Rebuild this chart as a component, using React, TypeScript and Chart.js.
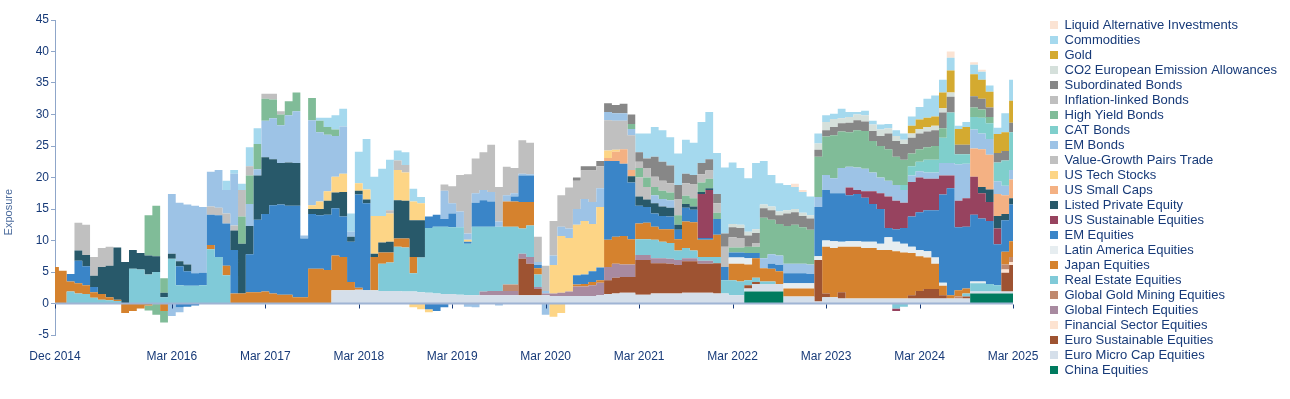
import React, { useEffect, useRef } from 'react';
import { Chart, registerables } from 'chart.js';

Chart.register(...registerables);

// zero runs (values read as 0 on the picture)
const z = (n: number): number[] => Array(n).fill(0);

// ---------- categories (monthly, Dec 2014 .. Mar 2025) ----------
const MONTH_NAMES = ['Jan', 'Feb', 'Mar', 'Apr', 'May', 'Jun', 'Jul', 'Aug', 'Sep', 'Oct', 'Nov', 'Dec'];
const categories: string[] = [];
for (let i = 0; i < 124; i++) {
  const k = 11 + i;
  categories.push(`${MONTH_NAMES[k % 12]} ${2014 + Math.floor(k / 12)}`);
}
const tickLabels = ['Dec 2014', 'Mar 2016', 'Mar 2017', 'Mar 2018', 'Mar 2019', 'Mar 2020', 'Mar 2021', 'Mar 2022', 'Mar 2023', 'Mar 2024', 'Mar 2025'];
const yTicks = { min: -5, max: 45, step: 5 };

// ---------- series (bottom of stack first) ----------
const chinaEquities = [...z(89), 1.9, 1.9, 1.9, 1.9, 1.9, ...z(24), 1.6, 1.6, 1.6, 1.6, 1.6, 1.6];
const euroMicroCap = [...z(36),
  2.1, 2.1, 2.1, 2.2, 2.1, 2.1, 2.0, 2.0, 2.0, 1.9, 1.9, 1.8,
  1.7, 1.6, 1.5, 1.5, 1.4, 1.3, 1.3, 1.3, 1.3, 1.3, 1.3, 1.3,
  1.3, 1.3, 1.3, 1.3, 1.2, 1.2, 1.2, 1.2, 1.2, 1.2, 1.3, 1.5,
  1.6, 1.7, 1.7, 1.4, 1.4, 1.6, 1.6, 1.6, 1.6, 1.7, 1.7, 1.7,
  1.7, 1.6, 1.6, 1.3, 1.3, 0.5, 1.2, 1.2, 1.2, 1.2, 1.1, 1.1,
  1.1, 1.1, 0.3, 1.0, 1.0, 0.8, 0.8, 0.8, 0.8, 0.8, 0.8, 0.8,
  0.8, 0.8, 0.8, 0.8, 0.8, 0.8, 0.8, 0.8, 0.8, 0.8, 0.3, 0.3,
  0.3, 0.3, 0.3, 0.3];
const euroSustainable = [...z(60),
  5.8, 5.0, 1.0, 0, 0, 0, 0, 0, 0, 0, 0, 2.2,
  2.5, 2.5, 2.5, 5.5, 5.5, 4.8, 4.8, 4.7, 4.5, 5.0, 5.0, 4.6,
  4.6, 4.8, 0, 0, 0, 0.5, 0.3, 0, 0, 0, 0, 0,
  0, 0, 6.6, 0.6, 0, 1.0, 0, 0, 0, 0, 0, 0,
  0, 0, 0.5, 1.2, 1.5, 1.5, 0.5, 0, 0, 0.3, 0, 0,
  0, 0, 3.0, 4.2];
const financialSector = [...z(122), 0.5, 0.5];
const globalFintech = [...z(55), 0.6, 0.7, 0.7, 0.7, 0.7,
  0.8, 1.1, 0.3, 0.3, 0.4, 0.5, 0.7, 1.5, 1.5, 1.7, 2.0, 2.1,
  2.2, 2.0, 2.0, 0.8, 0.8, 0.8, 0.8, 0.8, 0.8, 0.5, 0.5, 0.5,
  0.5, ...z(39)];
const globalGoldMining = [...z(58), 1.0, 1.0, ...z(56), 0.3, ...z(5), 0.8, 0.8];
const realEstate = [
  0, 0, 1.9, 1.6, 1.5, 0.9, 0.6, 0.5, 0.4, 0, 5.5, 5.4,
  4.6, 5.0, 1.0, 7.1, 2.9, 2.8, 2.8, 2.9, 8.6, 7.4, 4.5, 0,
  ...z(18), 4.3, 4.5, 7.0, 7.0, 2.9, 5.5,
  10.3, 10.6, 10.7, 10.6, 10.7, 8.2, 10.9, 10.3, 10.2, 10.2, 9.2, 9.2,
  4.0, 5.0, 2.0, ...z(12),
  2.5, 2.5, 2.9, 2.6, 2.5, 1.5, 1.6, 1.2, 0.6,
  0.6, 1.0, 2.1, 2.4, 2.2, 0.8, 0.7, 0.4, 0.4,
  ...z(24), 0.5, 1.3, 1.3, 1.2, 1.0, 0, 0];
const japan = [
  5.8, 5.2, 1.6, 1.6, 1.4, 0.9, 0.9, 0.5, 0.2, 0, 0, 0,
  0, 0, 0, 0, 0, 0, 0, 0, 0.7, 0, 1.5, 1.6,
  1.6, 1.8, 1.8, 1.9, 1.6, 1.4, 1.4, 1.0, 1.0, 5.5, 5.5, 5.3,
  5.5, 5.3, 1.3, 0.3, 0, 5.3, 1.8, 1.6, 1.3, 1.4, 2.6, 0,
  0, 0, 0, 0, 0, 0, 0, 0, 0, 0, 4.0, 4.0,
  4.2, 3.7, 1.0, 0, 0, 0, 0, 0.3, 0.4, 0.5, 0.4, 4.3,
  4.3, 4.5, 4.0, 2.5, 2.6, 2.1, 2.0, 2.2, 1.8, 4.2, 4.5, 2.7,
  2.7, 3.5, 0, 2.6, 2.8, 2.5, 3.1, 2.1, 2.0, 2.0, 1.3, 1.3,
  1.3, 1.3, 0, 7.4, 7.8, 7.2, 8.2, 8.2, 8.0, 8.0, 7.7, 7.7,
  7.5, 7.3, 6.7, 5.5, 5.0, 4.0, 1.5, 0.5, 1.0, 0.8, 0, 0,
  0, 0, 2.0, 2.5];
const latinAmerica = [...z(87), 1.0, 1.0, 1.0, 0, 0, 0, 0, 0.8, 0.8,
  0.8, 0.8, 0.6, 1.0, 1.1, 0.8, 0.9, 0.9, 1.0, 1.0, 1.0, 2.0,
  1.5, 1.4, 1.0, 1.0, 1.0, 1.0, 0.5, 0, 0, 0, 0.3, 0.3,
  0, 0, 0, 0];
const emEquities = [
  0, 0, 1.2, 3.6, 3.0, 0.8, 0, 0, 0, 0, 0, 0,
  0, 0, 0, 0, 3.0, 2.3, 2.0, 2.0, 4.8, 6.6, 6.7, 6.9,
  0, 6.0, 11.5, 12.3, 14.0, 14.3, 14.1, 14.5, 9.3, 8.7, 8.5, 8.8,
  7.5, 6.4, 6.4, 14.8, 13.8, 0, 0, 0, 0, 0, 0, 0,
  1.8, 1.9, 1.2, 2.2, 0, 0.3, 3.8, 4.2, 4.0, 0, 0, 0.8,
  4.2, 4.2, 0.5, 0, 0, 0, 0, 1.5, 1.5, 1.7, 2.0, 12.5,
  12.0, 11.5, 9.0, 2.8, 2.5, 2.1, 2.1, 2.0, 1.5, 2.2, 2.0, 0.3,
  0.3, 2.5, 2.1, 0.8, 0.8, 0.8, 0.8, 0, 0.8, 1.0, 1.6, 1.6,
  1.6, 1.5, 7.8, 8.0, 7.6, 7.7, 7.3, 7.5, 7.0, 6.0, 5.5, 1.5,
  2.0, 2.5, 4.8, 6.0, 6.5, 7.5, 14.0, 17.0, 10.0, 9.8, 10.6, 10.0,
  10.0, 6.5, 5.0, 5.8];
const usSustainable = [...z(83), 7.0, 7.6, ...z(17), 1.2, 0.6, 1.0, 2.0, 2.5, 5.0,
  4.5, 4.0, 5.5, 5.5, 5.0, 5.0, 3.0, 2.0, 4.2, 4.5, 6.0, 4.0,
  3.0, 2.5, 0, 0];
const listedPrivateEquity = [
  0, 0, 0, 1.6, 1.8, 1.8, 4.3, 5.0, 8.3, 6.6, 3.0, 2.6,
  3.0, 2.5, 0.7, 0.8, 0.8, 1.1, 0, 0, 0, 0, 0, 3.1,
  7.9, 4.5, 7.0, 9.0, 7.3, 6.6, 6.9, 6.8, 0, 0.8, 1.0, 2.2,
  2.5, 3.9, 0.8, 0.6, 0.6, 0.5, 1.6, 1.7, 6.1, 6.0, 5.8, 5.9,
  ...z(26), 1.0, 1.5, 1.2, 1.6, 1.5, 1.4, 0.8, 0.6, 0.5, 0.3,
  0.3, ...z(34), 1.0, 2.0, 2.0, 1.0, 1.0];
const usSmallCaps = [...z(71), 0.5, 1.5, 2.3, 1.0, ...z(43), 4.5, 6.0, 5.5, 3.5, 3.0, 3.0];
const usTech = [...z(33), 0.6, 1.2, 1.5,
  2.5, 2.9, 0, 1.2, 1.6, 6.0, 4.2, 4.5, 4.8, 4.5, 3.0, 2.7,
  0, 0, 0, 0, 0, 0.3, ...z(10),
  4.5, 9.0, 8.5, 8.0, 8.5, 7.5, 9.6, 1.2,
  0.3, ...z(51)];
const valueGrowth = [0, 0, 0, 4.4, 4.8, 3.0, 3.0, 3.0, ...z(12), 1.3, 1.2, 1.6, 0.8,
  ...z(19), 0.5, 1.5, 1.2, ...z(25), 4.8, 4.6, 4.5, 5.5, 3.0, 2.0, ...z(47)];
const emBonds = [...z(15), 9.5, 9.3, 9.5, 10.7, 10.4, 5.5, 6.0, 3.7, 8.2,
  0, 3.5, 1.0, 5.8, 6.5, 6.0, 7.5, 8.2, 0.5, 13.5, 11.0, 9.0,
  6.5, 7.5, 0.8, ...z(11), 4.5, 1.6, 2.5, 1.0, 1.5, 1.6, 1.5, 0.8, 1.0, 0.5,
  0.3, 0.2, 0.5, 0.4, 1.5, 1.5, 1.5, 2.5, 3.5, 3.5, 3.0, 1.3,
  1.2, 1.2, 1.0, 0, 0, 1.3, 1.2, 1.2, ...z(11), 1.6, 1.5, 1.5, 1.5, 1.5,
  1.5, 1.5, 1.6, 2.4, 2.4, 4.0, 3.3, 3.6, 3.6, 3.0, 2.5, 2.5,
  2.5, 2.0, 1.0, 1.0, 1.0, 1.0, 2.0, 2.0, 5.8, 5.5, 3.0, 2.5,
  2.5, 2.0, 1.5, 1.5];
const catBonds = [...z(109), 0.8, 1.5, 1.5, 2.0, 2.0, 4.0, 8.0, 1.6, 1.5, 2.0, 2.5, 2.5, 3.0, 4.0, 6.0];
const highYield = [...z(12), 6.4, 8.0, 2.3, ...z(9),
  4.3, 4.5, 4.0, 3.5, 3.0, 1.7, 2.2, 3.0, 0, 3.5, 1.8, 1.2,
  1.0, ...z(37), 0.8, 1.5, 1.5, 1.3, 1.3, 1.2, 1.5, 1.3, 1.3, 1.5,
  1.5, 1.0, 0, 0.8, 0.8, 1.0, 1.0, 6.4, 5.5, 5.0, 6.0, 6.2,
  5.8, 5.5, 6.4, 6.1, 6.8, 5.8, 5.5, 5.9, 6.0, 5.0, 5.0, 5.0,
  4.5, 4.0, 2.0, 2.0, 2.0, 2.2, 1.5, 0, 0, 0, 1.5, 1.3,
  1.0, 0, 0, 0];
const inflationLinked = [...z(24), 4.2, 1.5, 0, 0.8, 0.9, 0.5, ...z(20),
  1.0, 2.7, 5.8, 9.4, 5.5, 6.0, 7.5, 5.5, 4.5, 4.0,
  5.3, 5.0, 4.0, 4.0, 5.5, 5.0, 6.5, 4.5, 4.5, 5.0, 3.5, 0,
  0, 0, 0, 1.0, 1.5, 1.6, 1.6, 1.5, 2.5, 2.0, 2.2, 1.3,
  1.3, 1.5, 3.2, 1.6, 1.5, 0, 0.6, ...z(33)];
const subordinated = [...z(67), 0.5, 0.7, 0.7, 0.8, 1.4,
  1.3, 1.5, 1.5, 1.5, 1.5, 3.2, 3.0, 2.8, 2.3, 1.5, 1.5, 1.8,
  1.8, 1.5, 2.1, 1.6, 1.6, 1.8, 1.6, 1.5, 1.5, 1.4, 2.0, 2.0,
  1.8, 1.8, 1.1, 1.0, 1.3, 1.3, 1.5, 1.6, 1.5, 1.6, 1.6, 2.5,
  2.5, 2.5, 2.5, 2.5, 2.5, 2.5, 2.5, 2.5, 1.5, 1.5, 1.8, 1.7,
  1.5, 1.5, 1.5, 1.5];
const co2Allowances = [...z(87), 0.5, 0.5, 0.6, 0.6, 0.6, 0.6, 0.6, 0.5, 0.5,
  0.5, 0.5, 1.0, 1.3, 1.3, 0.8, 0.9, 0.9, 1.0, 1.0, 1.0, 0.8,
  0.8, 0.7, 0.7, 0.7, 0.7, 0.7, 0.7, 0.7, ...z(8)];
const gold = [...z(110), 1.2, 1.5, 1.5, 1.5, 2.5, 3.5, 2.5, 2.8, 3.5, 3.0, 2.5, 3.0, 3.0, 3.5];
const commodities = [...z(22), 1.5, 0.6,
  1.0, 3.0, 2.5, 0, 0, 0, 0, 0, 0, 0, 0.5, 1.5,
  2.3, 2.8, 2.9, 5.0, 8.0, 6.2, 7.5, 8.0, 1.6, 2.0, 2.0, 1.0,
  ...z(27), 3.0, 4.0, 4.7, 5.0, 4.5, 5.0, 5.4, 5.1, 6.5,
  7.5, 6.5, 10.5, 9.8, 9.0, 8.5, 10.5, 6.9, 5.0, 4.5, 4.0, 3.5,
  3.3, 3.0, 1.6, 1.1, 0.8, 1.5, 0.8, 0.4, 0.7, 0.6, 0.8, 0.7,
  0.9, 1.0, 1.5, 2.0, 3.0, 3.3, 2.0, 2.0, 0.5, 0.8, 1.5, 1.3,
  1.0, 1.0, 3.0, 3.3];
const liquidAlternatives = [...z(95), 0.5, 0.3, ...z(18), 1.0, 0, 0, 0.4, 0.3, ...z(4)];

// negative exposures (stacked below zero)
const japanNeg = [...z(9), -1.5, -1.2, -0.8, -0.3, 0, -1.2, ...z(109)];
const realEstateNeg = [...z(108), -0.8, -0.5, ...z(14)];
const emEquitiesNeg = [...z(16), -0.6, -0.5, -0.3, ...z(29), -0.9, -1.2, -0.6, ...z(73)];
const usSustainableNeg = [...z(108), -0.4, ...z(15)];
const usTechNeg = [...z(46), -0.6, -0.9, -0.5, ...z(15), -2.1, -1.5, ...z(58)];
const emBondsNeg = [...z(15), -2.0, -0.8, ...z(36), -0.5, -0.6, 0, 0, -0.3, ...z(5), -1.8, ...z(60)];
const highYieldNeg = [...z(12), -0.8, -1.8, -1.8, ...z(109)];

const positive = [
  { label: 'China Equities', data: chinaEquities, color: '#007b5f' },
  { label: 'Euro Micro Cap Equities', data: euroMicroCap, color: '#d5dfea' },
  { label: 'Euro Sustainable Equities', data: euroSustainable, color: '#9e5332' },
  { label: 'Financial Sector Equities', data: financialSector, color: '#fde3d1' },
  { label: 'Global Fintech Equities', data: globalFintech, color: '#a88aa0' },
  { label: 'Global Gold Mining Equities', data: globalGoldMining, color: '#c0896e' },
  { label: 'Real Estate Equities', data: realEstate, color: '#80cad8' },
  { label: 'Japan Equities', data: japan, color: '#d5822e' },
  { label: 'Latin America Equities', data: latinAmerica, color: '#e6edf0' },
  { label: 'EM Equities', data: emEquities, color: '#3a85c8' },
  { label: 'US Sustainable Equities', data: usSustainable, color: '#97435f' },
  { label: 'Listed Private Equity', data: listedPrivateEquity, color: '#28596a' },
  { label: 'US Small Caps', data: usSmallCaps, color: '#f4b183' },
  { label: 'US Tech Stocks', data: usTech, color: '#fdd586' },
  { label: 'Value-Growth Pairs Trade', data: valueGrowth, color: '#c0c0c0' },
  { label: 'EM Bonds', data: emBonds, color: '#9dc3e6' },
  { label: 'CAT Bonds', data: catBonds, color: '#7fcfcc' },
  { label: 'High Yield Bonds', data: highYield, color: '#80bc98' },
  { label: 'Inflation-linked Bonds', data: inflationLinked, color: '#bfbfbf' },
  { label: 'Subordinated Bonds', data: subordinated, color: '#878787' },
  { label: 'CO2 European Emission Allowances', data: co2Allowances, color: '#d5e0db' },
  { label: 'Gold', data: gold, color: '#d4aa30' },
  { label: 'Commodities', data: commodities, color: '#a5d9ee' },
  { label: 'Liquid Alternative Investments', data: liquidAlternatives, color: '#fbe3d3' },
];

const negative = [
  { label: 'Japan Equities', data: japanNeg, color: '#d5822e' },
  { label: 'Real Estate Equities', data: realEstateNeg, color: '#80cad8' },
  { label: 'EM Equities', data: emEquitiesNeg, color: '#3a85c8' },
  { label: 'US Sustainable Equities', data: usSustainableNeg, color: '#97435f' },
  { label: 'US Tech Stocks', data: usTechNeg, color: '#fdd586' },
  { label: 'EM Bonds', data: emBondsNeg, color: '#9dc3e6' },
  { label: 'High Yield Bonds', data: highYieldNeg, color: '#80bc98' },
];

const NAVY = '#173a78';
const AXIS = '#8fa6c9';
const ZERO = '#9fb4d4';
const TITLE = '#4a6a9c';
const FONT = '"Liberation Sans", Arial, Helvetica, sans-serif';
const LEGEND_WIDTH = 277;
const LEGEND_GAP = 35;

const legendLayoutPlugin = {
  id: 'legendLayout',
  beforeInit(chart: any) {
    const legend = chart.legend;
    if (!legend) return;
    const orig = legend.fit;
    legend.fit = function () {
      orig.call(this);
      this.width = Math.max(this.width, LEGEND_WIDTH);
    };
  },
  afterLayout(chart: any) {
    const legend = chart.legend;
    if (!legend) return;
    legend.left = chart.chartArea.right + LEGEND_GAP;
    legend.top -= 3.5;
  },
};

const zeroLinePlugin = {
  id: 'zeroLine',
  afterDatasetsDraw(chart: any) {
    const { ctx, chartArea, scales } = chart;
    const y0 = scales.y.getPixelForValue(0);
    ctx.save();
    ctx.strokeStyle = ZERO;
    ctx.lineWidth = 2;
    ctx.beginPath();
    ctx.moveTo(chartArea.left, y0);
    ctx.lineTo(chartArea.right, y0);
    ctx.stroke();
    ctx.strokeStyle = NAVY;
    ctx.lineWidth = 1;
    scales.x.ticks.forEach((_t: any, i: number) => {
      const x = Math.round(scales.x.getPixelForTick(i)) + 0.5;
      ctx.beginPath();
      ctx.moveTo(x, y0 + 1);
      ctx.lineTo(x, y0 + 5);
      ctx.stroke();
    });
    ctx.restore();
  },
};

const yTitlePlugin = {
  id: 'yTitle',
  afterDraw(chart: any) {
    const { ctx, chartArea } = chart;
    ctx.save();
    ctx.translate(9, chartArea.top + (chartArea.bottom - chartArea.top) * 0.61);
    ctx.rotate(-Math.PI / 2);
    ctx.fillStyle = TITLE;
    ctx.font = `11px ${FONT}`;
    ctx.textAlign = 'center';
    ctx.textBaseline = 'middle';
    ctx.fillText('Exposure', 0, 0);
    ctx.restore();
  },
};

export default function App() {
  const ref = useRef<HTMLCanvasElement>(null);

  useEffect(() => {
    if (!ref.current) return;
    Chart.defaults.font.family = FONT;
    const mk = (s: any, i: number, stack: string) => ({
      label: s.label,
      data: s.data,
      backgroundColor: s.color,
      borderColor: 'rgba(0,0,0,0)',
      borderWidth: 0,
      pointRadius: 0,
      pointHoverRadius: 0,
      fill: i === 0 ? 'origin' : '-1',
      stack,
      stepped: 'middle',
      tension: 0,
    });
    const datasets = [
      ...positive.map((s, i) => mk(s, i, 'pos')),
      ...negative.map((s, i) => mk(s, i, 'neg')),
    ];
    const chart = new Chart(ref.current, {
      type: 'line',
      data: { labels: categories, datasets: datasets as any },
      options: {
        animation: false,
        responsive: false,
        maintainAspectRatio: false,
        events: [],
        layout: { padding: { top: 20, right: 0, bottom: 10, left: 0 } },
        plugins: {
          legend: {
            position: 'right',
            align: 'start',
            reverse: true,
            labels: {
              boxWidth: 8,
              boxHeight: 8,
              padding: 2,
              color: NAVY,
              font: { size: 13, family: FONT },
              filter: (item: any) => item.datasetIndex < positive.length,
            },
          },
          tooltip: { enabled: false },
        },
        scales: {
          x: {
            type: 'category',
            grid: { display: false, drawTicks: false },
            border: { display: false },
            ticks: {
              color: NAVY,
              font: { size: 12, family: FONT },
              padding: 14,
              autoSkip: false,
              maxRotation: 0,
              minRotation: 0,
            },
            afterBuildTicks: (scale: any) => {
              scale.ticks = tickLabels.map((l) => ({ value: categories.indexOf(l) }));
            },
            afterFit: (scale: any) => {
              scale.height = 54;
            },
          },
          y: {
            stacked: true,
            min: yTicks.min,
            max: yTicks.max,
            ticks: { stepSize: yTicks.step, color: NAVY, font: { size: 12, family: FONT }, padding: 2 },
            grid: { drawOnChartArea: false, drawTicks: true, tickLength: 4, color: AXIS },
            border: { display: true, color: AXIS, width: 1 },
            afterFit: (scale: any) => {
              scale.width = 55;
            },
          },
        },
      } as any,
      plugins: [legendLayoutPlugin, zeroLinePlugin, yTitlePlugin],
    });
    return () => chart.destroy();
  }, []);

  return (
    <div style={{ position: 'absolute', left: 0, top: 0, width: 1290, height: 399, background: '#fff' }}>
      <canvas ref={ref} width={1290} height={399} style={{ width: 1290, height: 399, display: 'block' }} />
    </div>
  );
}
